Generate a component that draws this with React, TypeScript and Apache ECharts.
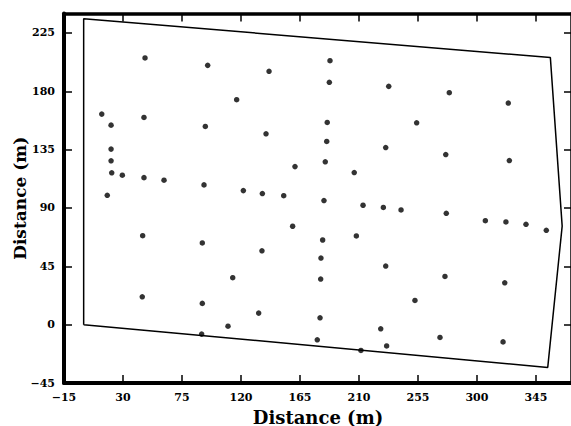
import React, { useEffect, useRef } from "react";
import * as echarts from "echarts";

const pointX = [
  13.8, 20.9, 46.0, 46.8, 20.9, 20.9, 21.4, 29.5, 46.0, 61.3, 18.0, 45.0, 44.7,
  94.6, 141.4, 187.9, 187.4, 232.7, 116.7, 92.8, 139.1, 185.4, 185.8, 230.4,
  161.2, 184.3, 206.4, 91.8, 121.8, 136.3, 152.6, 183.3, 213.1, 228.6, 159.4,
  182.3, 208.0, 90.5, 136.0, 181.0, 230.4, 113.7, 180.8, 90.5, 133.5, 180.3,
  110.1, 226.6, 178.2, 231.1, 211.5, 90.0, 278.9, 323.9, 254.0, 276.2, 324.7,
  242.1, 276.6, 306.4, 322.1, 337.4, 352.9, 275.6, 321.2, 252.7, 271.8, 319.9,
];
const pointY = [
  162.4, 153.9, 159.8, 205.7, 135.4, 126.4, 117.1, 115.3, 113.4, 111.4, 99.8,
  68.6, 21.5, 200.0, 195.4, 203.6, 186.9, 183.8, 173.5, 152.9, 147.2, 141.3,
  156.0, 136.6, 121.9, 125.6, 117.3, 107.8, 103.4, 101.1, 99.5, 95.7, 92.1,
  90.4, 75.9, 65.3, 68.4, 63.0, 57.0, 51.4, 45.2, 36.2, 35.2, 16.4, 8.9, 5.3,
  -1.2, -3.2, -11.7, -16.4, -19.9, -7.3, 178.9, 170.9, 155.7, 131.2, 126.6,
  88.5, 85.9, 80.2, 79.2, 77.4, 72.8, 37.2, 32.3, 18.7, -9.9, -13.3,
];
const boundaryX = [0, 0, 356, 365, 354, 0];
const boundaryY = [0, 236, 206, 76, -33, 0];

const xTicks = [-15, 30, 75, 120, 165, 210, 255, 300, 345];
const yTicks = [-45, 0, 45, 90, 135, 180, 225];

const FONT = "DejaVu Serif";

function fmt(list: number[]) {
  return (v: number) => {
    const hit = list.find((t) => Math.abs(t - v) < 1e-6);
    return hit === undefined ? "" : String(hit).replace("-", "\u2212");
  };
}

export default function App() {
  const ref = useRef<HTMLDivElement>(null);
  useEffect(() => {
    if (!ref.current) return;
    const chart = echarts.init(ref.current, undefined, { renderer: "svg" });
    const labelStyle = {
      fontFamily: FONT,
      fontWeight: "bold" as const,
      fontSize: 11,
      color: "#000",
    };
    const tickStyle = { inside: true, length: 8, lineStyle: { color: "#000", width: 1.5 } };
    const xBase = {
      type: "value" as const,
      min: -15,
      max: 372.5,
      interval: 45,
      splitLine: { show: false },
      axisTick: tickStyle,
    };
    const yBase = {
      type: "value" as const,
      min: -45,
      max: 240,
      interval: 45,
      splitLine: { show: false },
      axisTick: tickStyle,
    };
    chart.setOption({
      animation: false,
      backgroundColor: "#fff",
      grid: {
        left: 64,
        top: 13.5,
        width: 508,
        height: 369.5,
        containLabel: false,
        outerBoundsMode: "none",
      },
      xAxis: [
        {
          ...xBase,
          position: "bottom",
          axisLine: { onZero: false, lineStyle: { color: "#000", width: 4 } },
          axisLabel: { ...labelStyle, margin: 9, formatter: fmt(xTicks) },
          name: "Distance (m)",
          nameLocation: "middle",
          nameGap: 25,
          nameMoveOverlap: false,
          nameTextStyle: { fontFamily: FONT, fontWeight: "bold", fontSize: 18, color: "#000" },
        },
        {
          ...xBase,
          position: "top",
          axisLine: { onZero: false, lineStyle: { color: "#000", width: 3.5 } },
          axisLabel: { show: false },
        },
      ],
      yAxis: [
        {
          ...yBase,
          position: "left",
          axisLine: { onZero: false, lineStyle: { color: "#000", width: 4 } },
          axisLabel: { ...labelStyle, margin: 9, formatter: fmt(yTicks) },
          name: "Distance (m)",
          nameLocation: "middle",
          nameGap: 36,
          nameMoveOverlap: false,
          nameTextStyle: { fontFamily: FONT, fontWeight: "bold", fontSize: 17, color: "#000" },
        },
        {
          ...yBase,
          position: "right",
          axisLine: { onZero: false, lineStyle: { color: "#000", width: 3.5 } },
          axisLabel: { show: false },
        },
      ],
      series: [
        {
          type: "line",
          data: boundaryX.map((x, i) => [x, boundaryY[i]]),
          symbol: "none",
          lineStyle: { color: "#000", width: 1.5 },
          silent: true,
        },
        {
          type: "scatter",
          data: pointX.map((x, i) => [x, pointY[i]]),
          symbol: "circle",
          symbolSize: 5.5,
          itemStyle: { color: "#000" },
        },
      ],
    });
    return () => chart.dispose();
  }, []);
  return (
    <div
      ref={ref}
      style={{ position: "fixed", left: 0, top: 0, width: 571, height: 426, background: "#fff" }}
    />
  );
}
